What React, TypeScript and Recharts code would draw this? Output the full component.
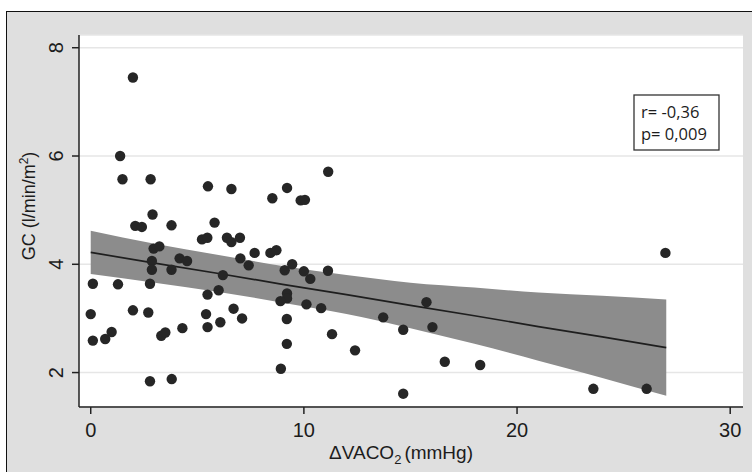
import { ComposedChart, Scatter, Line, Area, XAxis, YAxis, CartesianGrid } from "recharts"

// ΔVACO2 (mmHg) and GC (l/min/m²) for each patient
const vaco2 = [
  1.98, 1.38, 1.49, 2.81, 5.5, 6.6, 11.14, 8.52, 9.21, 9.85, 10.05, 2.9, 2.09, 2.4, 3.79, 5.81,
  5.22, 5.47, 6.39, 6.6, 7.0, 2.95, 3.22, 4.17, 4.52, 2.87, 2.87, 3.79, 7.02, 6.2, 7.41, 7.69,
  8.43, 8.71, 9.1, 9.45, 10.0, 10.3, 11.13, 9.21, 9.21, 8.9, 10.12, 10.81, 9.2, 9.2, 8.92, 11.32,
  12.4, 6.7, 7.1, 6.08, 5.48, 5.41, 5.48, 6.0, 4.3, 3.31, 3.5, 1.98, 2.7, 0.0, 0.1, 0.68,
  0.98, 0.1, 1.28, 2.78, 2.78, 3.8, 26.96, 15.75, 13.72, 14.66, 16.03, 16.61, 18.27, 14.66, 23.58, 26.08,
]
const gc = [
  7.45, 6.0, 5.57, 5.57, 5.44, 5.39, 5.71, 5.22, 5.41, 5.18, 5.19, 4.92, 4.71, 4.69, 4.72, 4.77,
  4.46, 4.49, 4.49, 4.41, 4.49, 4.29, 4.33, 4.11, 4.06, 4.06, 3.9, 3.9, 4.11, 3.8, 3.98, 4.21,
  4.21, 4.26, 3.89, 4.0, 3.87, 3.73, 3.88, 3.46, 3.37, 3.32, 3.26, 3.19, 2.99, 2.53, 2.07, 2.71,
  2.41, 3.18, 3.0, 2.93, 2.84, 3.08, 3.44, 3.52, 2.82, 2.68, 2.74, 3.15, 3.11, 3.08, 2.59, 2.62,
  2.75, 3.64, 3.63, 3.64, 1.84, 1.88, 4.21, 3.3, 3.02, 2.79, 2.84, 2.2, 2.14, 1.61, 1.7, 1.7,
]

// fitted line and its confidence band
const fitX = [0, 3, 6, 9, 12, 15, 18, 21, 24, 27]
const fitY = [4.22, 4.02, 3.83, 3.63, 3.44, 3.24, 3.05, 2.85, 2.66, 2.46]
const bandLow = [3.82, 3.66, 3.49, 3.29, 3.08, 2.82, 2.53, 2.22, 1.9, 1.57]
const bandHigh = [4.62, 4.38, 4.17, 3.97, 3.8, 3.66, 3.57, 3.48, 3.42, 3.35]

const xTicks = [0, 10, 20, 30]
const yTicks = [2, 4, 6, 8]

const points = vaco2.map((x, i) => ({ x, y: gc[i] }))
const fit = fitX.map((x, i) => ({ x, fit: fitY[i], band: [bandLow[i], bandHigh[i]] }))

const font = "'Liberation Sans', Arial, sans-serif"
const ink = "#1c1c1c"

const Dot = (props: any) => <circle cx={props.cx} cy={props.cy} r={5.2} fill="#262626" />

const YTick = ({ x, y, payload }: any) => (
  <text
    x={x - 3}
    y={y}
    transform={`rotate(-90, ${x - 3}, ${y})`}
    textAnchor="middle"
    fontSize={20}
    fontFamily={font}
    fill={ink}
  >
    {payload.value}
  </text>
)

export default function App() {
  return (
    <div style={{ position: "absolute", left: 0, top: 0, width: 752, height: 472, overflow: "hidden", background: "#fff" }}>
      <div
        style={{
          position: "absolute",
          left: 6,
          top: 11,
          right: -4,
          bottom: -4,
          background: "#dfdfdf",
          borderTop: "1.5px solid #111",
          borderLeft: "1.5px solid #111",
        }}
      />
      <div style={{ position: "absolute", left: 0, top: 0 }}>
        <ComposedChart width={752} height={472} margin={{ top: 35, right: 9, bottom: 35, left: 39 }}>
          <CartesianGrid vertical={false} fill="#fff" stroke="#e6e6e6" strokeWidth={1.5} />
          <XAxis
            dataKey="x"
            type="number"
            domain={[-0.55, 30.6]}
            ticks={xTicks}
            allowDataOverflow
            height={30}
            tickSize={7}
            tickMargin={9}
            stroke="#222"
            strokeWidth={1.5}
            tick={{ fontSize: 20, fill: ink, fontFamily: font }}
          />
          <YAxis
            dataKey="y"
            type="number"
            domain={[1.364, 8.235]}
            ticks={yTicks}
            allowDataOverflow
            width={40}
            tickSize={7}
            tickMargin={6}
            stroke="#222"
            strokeWidth={1.5}
            tick={<YTick />}
          />
          <Area
            data={fit}
            dataKey="band"
            type="monotone"
            fill="#8c8c8c"
            fillOpacity={1}
            stroke="none"
            isAnimationActive={false}
          />
          <Line
            data={fit}
            dataKey="fit"
            type="linear"
            stroke="#1e1e1e"
            strokeWidth={1.7}
            dot={false}
            isAnimationActive={false}
          />
          <Scatter data={points} dataKey="y" shape={Dot} isAnimationActive={false} />
        </ComposedChart>
      </div>
      <svg width={752} height={472} style={{ position: "absolute", left: 0, top: 0, pointerEvents: "none" }}>
        <text
          x={35}
          y={206}
          transform="rotate(-90, 35, 206)"
          textAnchor="middle"
          fontSize={18}
          fontFamily={font}
          fill={ink}
        >
          GC (l/min/m<tspan dy={-7} fontSize={12}>2</tspan>
          <tspan dy={7}>)</tspan>
        </text>
        <text x={401} y={459} textAnchor="middle" fontSize={19} fontFamily={font} fill={ink}>
          ΔVACO<tspan dy={5} fontSize={13}>2</tspan>
          <tspan dy={-5} dx={3}>(mmHg)</tspan>
        </text>
        <rect x={634} y={95} width={85} height={55} fill="#fff" stroke="#333" strokeWidth={1.3} />
        <text x={641} y={118} fontSize={16.5} fontFamily="'Open Sans', sans-serif" fill={ink}>
          r= -0,36
        </text>
        <text x={641} y={140} fontSize={16.5} fontFamily="'Open Sans', sans-serif" fill={ink}>
          p= 0,009
        </text>
      </svg>
    </div>
  )
}
